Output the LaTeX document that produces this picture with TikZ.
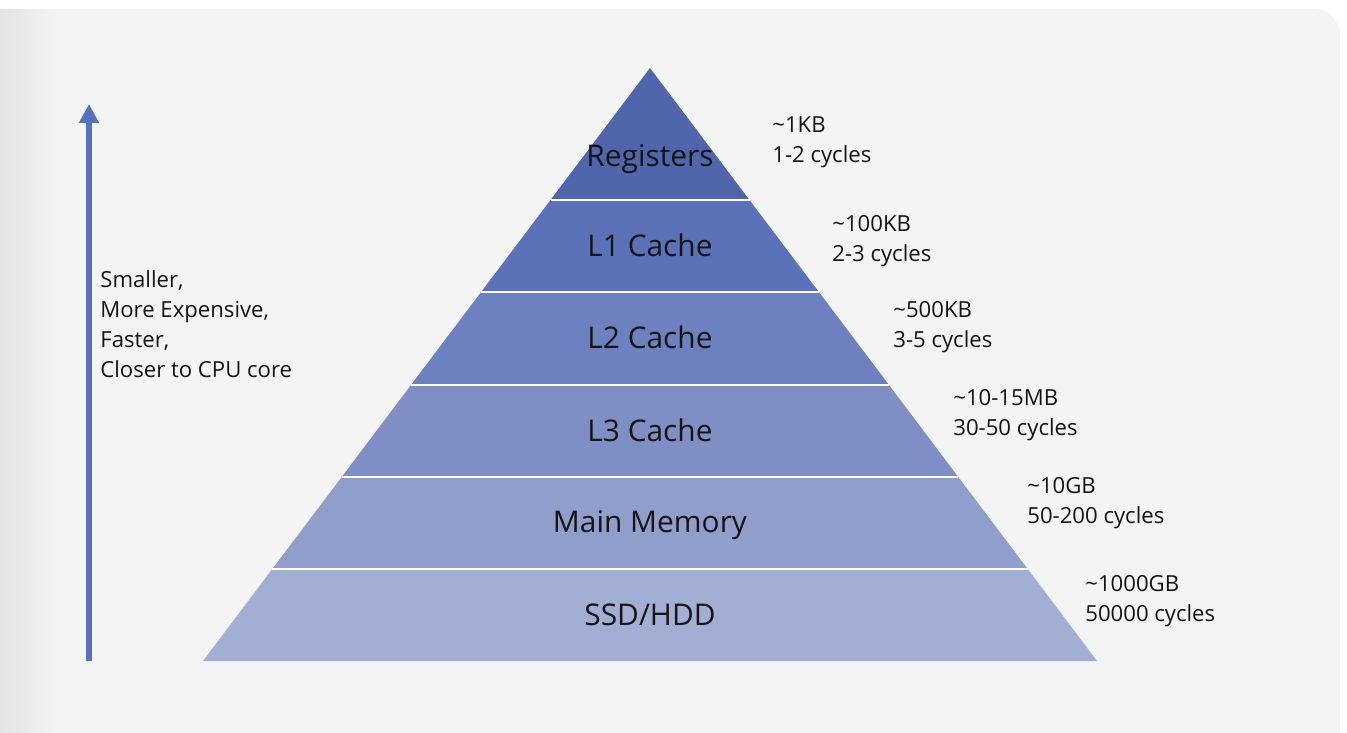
\documentclass[tikz,border=0pt]{standalone}
\usepackage{fontspec}
\setmainfont{Open Sans}
\usepackage{tikz}
\usetikzlibrary{arrows.meta, positioning, calc}

\definecolor{cardbg}{HTML}{F4F4F4}
\definecolor{cardshade}{HTML}{E3E3E3}
\definecolor{regfill}{HTML}{4F66AC}
\definecolor{lonefill}{HTML}{5B72B8}
\definecolor{ltwofill}{HTML}{6D80BF}
\definecolor{lthreefill}{HTML}{7F8FC6}
\definecolor{memfill}{HTML}{909ECC}
\definecolor{diskfill}{HTML}{A3AED5}
\definecolor{arrowblue}{HTML}{5571C0}
\definecolor{inktext}{HTML}{141414}

\begin{document}
\begin{tikzpicture}[
    x=0.02cm, y=-0.02cm,
    tier/.style={anchor=base, inner sep=0pt, text=inktext, font=\fontsize{17}{20}\selectfont},
    info/.style={anchor=west, align=left, inner sep=0pt, text=inktext, font=\fontsize{12.6}{17}\selectfont},
    sep/.style={draw=white, line width=0.9pt},
    uparrow/.style={-{Triangle[length=10.8pt, width=10.8pt]}, line width=3.4pt, draw=arrowblue}
]
    \useasboundingbox (0,0) rectangle (1347,733);
    \fill[white] (0,0) rectangle (1347,733);

    % Card background with a soft left edge
    \begin{scope}
        \clip[rounded corners=15] (-30,9) rectangle (1340,780);
        \fill[cardbg] (-30,9) rectangle (1340,780);
        \shade[left color=cardshade, right color=cardbg] (0,9) rectangle (55,780);
    \end{scope}

    % Pyramid tiers, top to bottom
    \fill[regfill] (650,68) -- (749.5,200) -- (550.5,200) -- cycle;
    \fill[lonefill] (550.5,200) -- (749.5,200) -- (818.9,292) -- (481.1,292) -- cycle;
    \fill[ltwofill] (481.1,292) -- (818.9,292) -- (889,385) -- (411,385) -- cycle;
    \fill[lthreefill] (411,385) -- (889,385) -- (958.3,477) -- (341.7,477) -- cycle;
    \fill[memfill] (341.7,477) -- (958.3,477) -- (1027.7,569) -- (272.3,569) -- cycle;
    \fill[diskfill] (272.3,569) -- (1027.7,569) -- (1097,661) -- (203,661) -- cycle;

    % White lines between tiers
    \draw[sep] (550.5,200) -- (749.5,200);
    \draw[sep] (481.1,292) -- (818.9,292);
    \draw[sep] (411,385) -- (889,385);
    \draw[sep] (341.7,477) -- (958.3,477);
    \draw[sep] (272.3,569) -- (1027.7,569);

    % Tier names
    \node[tier] (regs) at (650,167) {Registers};
    \node[tier] (lone) at (650,257) {L1 Cache};
    \node[tier] (ltwo) at (650,349) {L2 Cache};
    \node[tier] (lthree) at (650,441) {L3 Cache};
    \node[tier] (mainmem) at (650,533) {Main Memory};
    \node[tier] (disk) at (650,625) {SSD/HDD};

    % Size and latency beside each tier
    \node[info] (regsinfo) at (772,142) {\textasciitilde1KB\\1-2 cycles};
    \node[info] (loneinfo) at (832,241) {\textasciitilde100KB\\2-3 cycles};
    \node[info] (ltwoinfo) at (893,327) {\textasciitilde500KB\\3-5 cycles};
    \node[info] (lthreeinfo) at (953,415) {\textasciitilde10-15MB\\30-50 cycles};
    \node[info] (mainmeminfo) at (1027,503) {\textasciitilde10GB\\50-200 cycles};
    \node[info] (diskinfo) at (1085,601) {\textasciitilde1000GB\\50000 cycles};

    % Direction arrow on the left
    \coordinate (arrowfoot) at (89,661);
    \coordinate (arrowtip) at (89,104);
    \draw[uparrow] (arrowfoot) -- (arrowtip);
    \node[info] (trend) at (100,324) {Smaller,\\More Expensive,\\Faster,\\Closer to CPU core};
\end{tikzpicture}
\end{document}
